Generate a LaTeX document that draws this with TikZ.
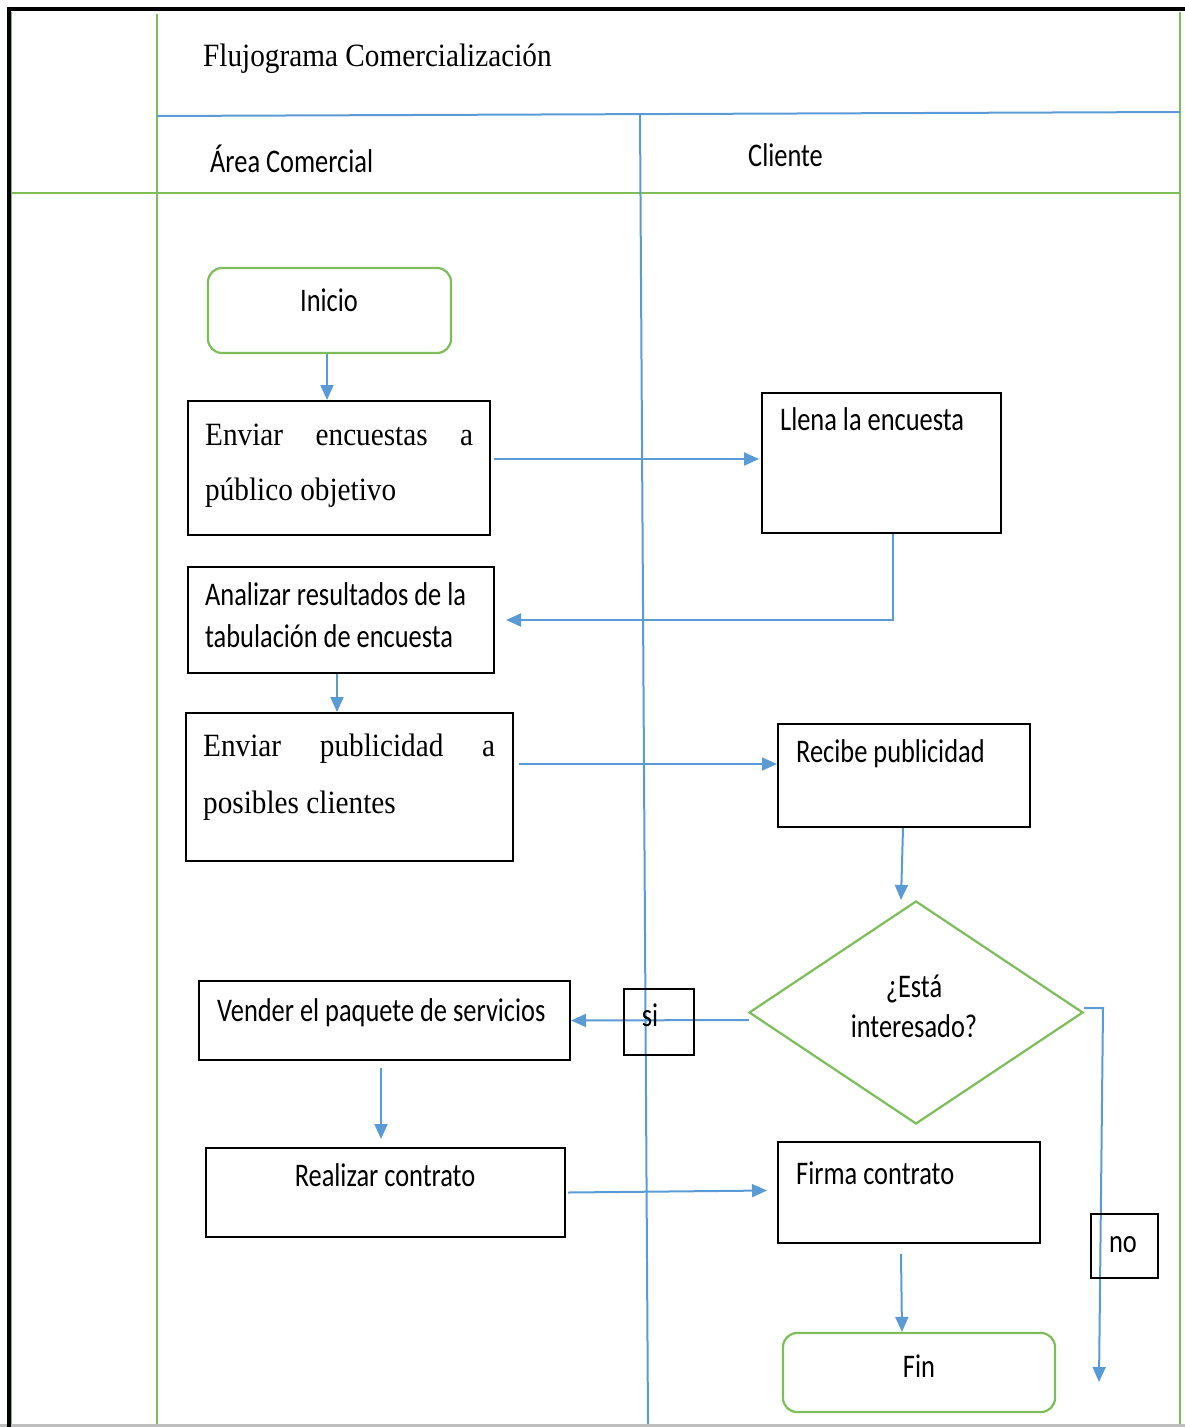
\documentclass[tikz,border=0pt]{standalone}
\usepackage{fontspec}
\setmainfont{Liberation Serif}
\newfontfamily\sansf{Carlito}[FakeStretch=0.8]
\newfontfamily\seriff{Liberation Serif}[FakeStretch=0.9]
\usetikzlibrary{arrows.meta,calc,shapes.geometric}
\definecolor{lgreen}{RGB}{125,190,90}
\definecolor{lblue}{RGB}{91,155,213}
\definecolor{lgray}{RGB}{190,190,190}
\tikzset{
  box/.style={draw=black,line width=2pt,inner sep=0pt},
  rbox/.style={draw=lgreen,line width=2.2pt,rounded corners=14pt,inner sep=0pt},
  dia/.style={diamond,draw=lgreen,line width=2.2pt,inner sep=0pt},
  arr/.style={draw=lblue,line width=2pt,-{Triangle[length=15pt,width=13pt]}},
  sline/.style={draw=lblue,line width=2pt},
  gline/.style={draw=lgreen,line width=2.2pt},
  stxt/.style={font=\sansf\fontsize{33}{40}\selectfont,inner sep=0pt,anchor=base west},
  stxtc/.style={font=\sansf\fontsize{33}{40}\selectfont,inner sep=0pt,anchor=base},
  rtxt/.style={font=\seriff\fontsize{32.5}{40}\selectfont,inner sep=0pt,anchor=base west},
}
\begin{document}
\begin{tikzpicture}[x=1pt,y=-1pt]
\useasboundingbox (0,0) rectangle (1185,1427);
% frame and lanes
\draw[gline] (11,12) -- (11,1427);
\draw[gline] (157,14) -- (157,1424);
\draw[gline] (1180,12) -- (1180,1424);
\draw[gline] (11,193) -- (1180,193);
\draw[sline] (157,116) -- (1180,112);
\draw[sline] (640,115) -- (648,1424);
\draw[lgray,line width=3pt] (0,1425.5) -- (1185,1425.5);
\draw[black,line width=4pt] (9,1427) -- (9,9) -- (1185,9);
% header texts
\node[rtxt] (title) at (203,66) {Flujograma Comercialización};
\node[stxt] (lane1) at (210,172) {Área Comercial};
\node[stxt] (lane2) at (748,166) {Cliente};
% nodes
\node[rbox,minimum width=243pt,minimum height=85pt] (ini) at (329.5,310.5) {};
\node[box,minimum width=302pt,minimum height=134pt] (env) at (339,468) {};
\node[box,minimum width=239pt,minimum height=140pt] (lle) at (881.5,463) {};
\node[box,minimum width=306pt,minimum height=106pt] (ana) at (341,620) {};
\node[box,minimum width=327pt,minimum height=148pt] (pub) at (349.5,787) {};
\node[box,minimum width=252pt,minimum height=103pt] (rec) at (904,775.5) {};
\node[dia,minimum width=334pt,minimum height=223pt] (dec) at (916,1012.5) {};
\node[box,minimum width=371pt,minimum height=79pt] (ven) at (384.5,1020.5) {};
\node[box,minimum width=359pt,minimum height=89pt] (rea) at (385.5,1192.5) {};
\node[box,minimum width=262pt,minimum height=101pt] (fir) at (909,1192.5) {};
\node[rbox,minimum width=272pt,minimum height=79pt] (fin) at (919,1372.5) {};
% connectors
\draw[arr] ($(ini.south)+(-2.5,0)$) -- ($(env.north)+(-12,0)$);
\draw[arr] ($(env.east)+(3,-9)$) -- ($(lle.west)+(-2,-4)$);
\draw[arr] ($(lle.south)+(11.5,0)$) |- ($(ana.east)+(11,0)$);
\draw[arr] ($(ana.south)+(-4,0)$) -- ($(pub.north)+(-12.5,0)$);
\draw[arr] ($(pub.east)+(5,-23)$) -- ($(rec.west)+(0,-11.5)$);
\draw[arr] ($(rec.south)+(-1,0)$) -- ($(dec.north)+(-15,0)$);
\draw[arr] ($(dec.west)+(1,7.5)$) -- (ven.east);
\draw[arr] ($(ven.south)+(-3.5,7)$) -- ($(rea.north)+(-4.5,-8)$);
\draw[arr] ($(rea.east)+(2,0)$) -- ($(fir.west)+(-10,-2)$);
\draw[arr] ($(fir.south)+(-8,10)$) -- ($(fin.north)+(-17,0)$);
\coordinate (nobend) at (1103,1008);
\coordinate (noend) at (1099,1382);
\draw[arr] ($(dec.east)+(0,-4.5)$) -- (nobend) -- (noend);
% label boxes
\node[box,minimum width=70pt,minimum height=66pt] (si) at (659,1022) {};
\node[box,minimum width=67pt,minimum height=64pt] (no) at (1124.5,1246) {};
% texts
\node[stxtc] (tini) at (329,311) {Inicio};
\node[rtxt] (tenv1) at (205,445) {\hbox to 268pt{Enviar\hfill encuestas\hfill a}};
\node[rtxt] (tenv2) at (205,500) {público objetivo};
\node[stxt] (tlle) at (780,430) {Llena la encuesta};
\node[stxt] (tana1) at (205,605) {Analizar resultados de la};
\node[stxt] (tana2) at (205,647) {tabulación de encuesta};
\node[rtxt] (tpub1) at (203,756) {\hbox to 292pt{Enviar\hfill publicidad\hfill a}};
\node[rtxt] (tpub2) at (203,813) {posibles clientes};
\node[stxt] (trec) at (796,762) {Recibe publicidad};
\node[stxtc] (tdec1) at (914,997) {¿Está};
\node[stxtc] (tdec2) at (914,1037) {interesado?};
\node[stxt] (tven) at (217,1021) {Vender el paquete de servicios};
\node[stxtc] (tsi) at (650,1026) {si};
\node[stxtc] (trea) at (385,1186) {Realizar contrato};
\node[stxt] (tfir) at (796,1184) {Firma contrato};
\node[stxtc] (tno) at (1123,1252) {no};
\node[stxtc] (tfin) at (919,1377) {Fin};
\end{tikzpicture}
\end{document}
